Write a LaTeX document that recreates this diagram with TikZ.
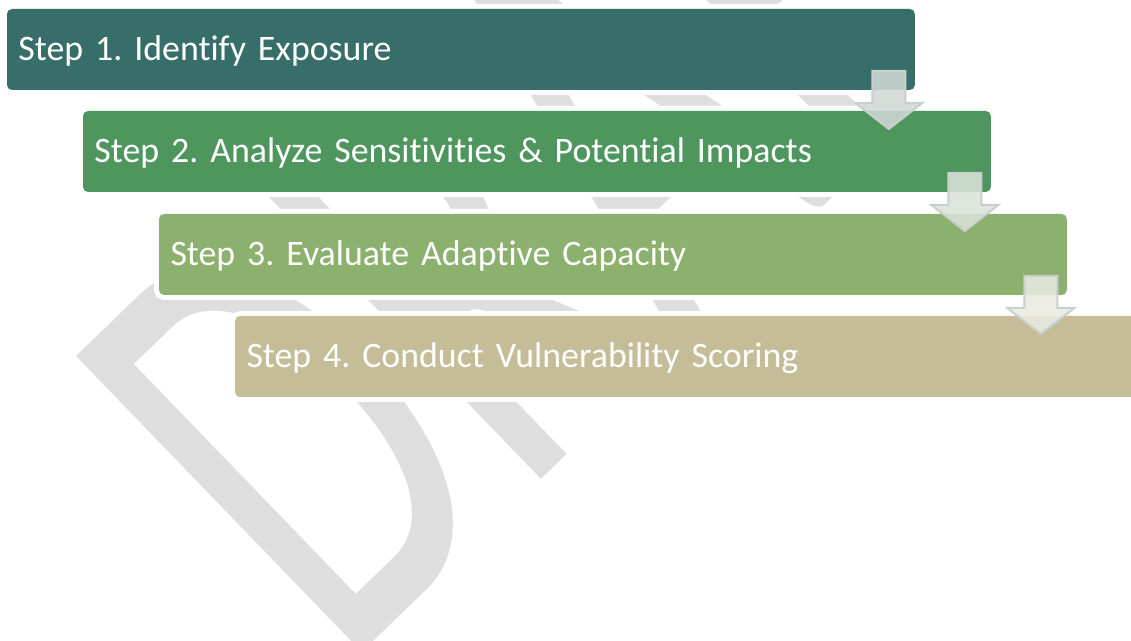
\documentclass[tikz,border=0pt]{standalone}
\usepackage{fontspec}
\setmainfont{Carlito}[Ligatures={NoCommon}]
\usepackage{tikz}
\usetikzlibrary{calc}
\definecolor{stepone}{RGB}{55,110,105}
\definecolor{steptwo}{RGB}{78,150,94}
\definecolor{stepthree}{RGB}{140,176,110}
\definecolor{stepfour}{RGB}{196,189,151}
\definecolor{wmgray}{RGB}{222,222,222}
\definecolor{arrowline}{RGB}{200,208,205}
\definecolor{arrowone}{RGB}{208,216,212}
\definecolor{arrowtwo}{RGB}{218,226,216}
\definecolor{arrowthree}{RGB}{234,234,226}
\frenchspacing
\newcommand\stepfont{\fontsize{20.4}{25}\selectfont}
\tikzset{
  stepbox/.style={rectangle, rounded corners=0.1cm, anchor=north west,
    minimum width=18.16cm, minimum height=1.62cm, text width=17.7cm,
    align=left, inner xsep=0.23cm, inner ysep=0pt, outer sep=0pt,
    text=white, font=\stepfont,
    text height=0.58cm, text depth=0.122cm,
    preaction={draw=white, line width=0.2cm}},
  steparrow/.style={draw=arrowline, line width=0.04cm, fill opacity=0.88},
  watermark/.style={text=wmgray, inner sep=0pt, anchor=base west,
    font=\fontsize{365}{365}\selectfont}
}
\def\stepdown#1#2{\draw[steparrow, fill=#2, shift={(#1)}]
  (-16.5,0) -- (16.5,0) -- (16.5,-32) -- (33.5,-32) -- (0,-58)
  -- (-33.5,-32) -- (-16.5,-32) -- cycle;}

\begin{document}
\begin{tikzpicture}[x=0.02cm, y=0.02cm]
\useasboundingbox (0,0) rectangle (1131,-641);
% watermark behind the steps
\begin{scope}
\clip (0,0) rectangle (1131,-641);
\node[watermark, rotate=44, xscale=0.63] (wm) at (342,-672) {DRAFT};
\end{scope}
% the four steps
\node[stepbox, fill=stepone] (s1) at (7,-9) {Step 1. Identify Exposure};
\node[stepbox, fill=steptwo] (s2) at (83,-111) {Step 2. Analyze Sensitivities \& Potential Impacts};
\node[stepbox, fill=stepthree] (s3) at (159,-214) {Step 3. Evaluate Adaptive Capacity};
\node[stepbox, fill=stepfour] (s4) at (235,-316) {Step 4. Conduct Vulnerability Scoring};
% arrows between the steps
\coordinate (a1) at ($(s1.south east)+(-26,19)$);
\coordinate (a2) at ($(s2.south east)+(-26,19)$);
\coordinate (a3) at ($(s3.south east)+(-26,19)$);
\stepdown{a1}{arrowone}
\stepdown{a2}{arrowtwo}
\stepdown{a3}{arrowthree}
\end{tikzpicture}
\end{document}
